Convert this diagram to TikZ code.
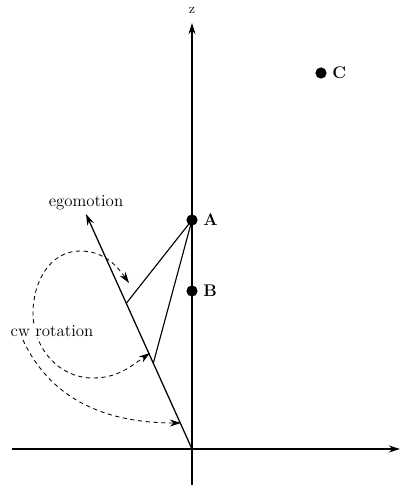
\documentclass[tikz,border=0pt]{standalone}
\usepackage{tikz}
\usetikzlibrary{arrows.meta, calc}
\tikzset{
  rtip/.tip={Stealth[length=8pt, width=5pt]},
  dot/.style={circle, fill, inner sep=0pt, minimum size=0.28cm},
  ptlabel/.style={font=\bfseries\large},
  axis/.style={line width=0.9pt, -{rtip}},
  rotarc/.style={dash pattern=on 3pt off 2.5pt, line width=0.6pt}
}

\begin{document}
\begin{tikzpicture}[line width=0.8pt, font=\large]
  \useasboundingbox (-4.8,-0.975) rectangle (5.425,11.225);

  \coordinate (o)  at (0,0);
  \coordinate (xl) at (-4.5,0);
  \coordinate (xr) at (5.2,0);
  \coordinate (zb) at (0,-0.9);
  \coordinate (zt) at (0,10.65);
  \coordinate (ego) at (-2.65,5.875);
  \coordinate (p1) at ($(o)!0.62!(ego)$);
  \coordinate (p2) at ($(o)!0.365!(ego)$);
  \coordinate (r1) at (-1.575,4.15);
  \coordinate (r2) at (-1.05,2.4);
  \coordinate (r3) at (-4.225,2.725);
  \coordinate (r4) at (-0.275,0.65);

  \node[dot, label={[ptlabel]right:A}] (A) at (0,5.725) {};
  \node[dot, label={[ptlabel]right:B}] (B) at (0,3.95)  {};
  \node[dot, label={[ptlabel]right:C}] (C) at (3.225,9.4) {};
  \node[font=\normalsize] (z) at (0,10.975) {z};

  \draw[axis] (xl) -- (xr);
  \draw[axis] (zb) -- (zt);
  \draw[axis] (o) -- (ego);
  \node (egolabel) at (-2.65,6.15) {egomotion};

  \draw (A.center) -- (p1);
  \draw (A.center) -- (p2);

  \draw[rotarc, {rtip}-{rtip}] (r1) to[out=125,in=0] (-2.8,4.95)
    to[out=180,in=90] (-3.975,3.4) to[out=-90,in=180] (-2.475,1.775)
    to[out=0,in=-145] (r2);
  \draw[rotarc, -{rtip}] (r3) to[out=-65,in=180] (r4);
  \node[fill=white, inner sep=1pt] (cwlabel) at (-3.5,2.95) {cw rotation};
\end{tikzpicture}
\end{document}
